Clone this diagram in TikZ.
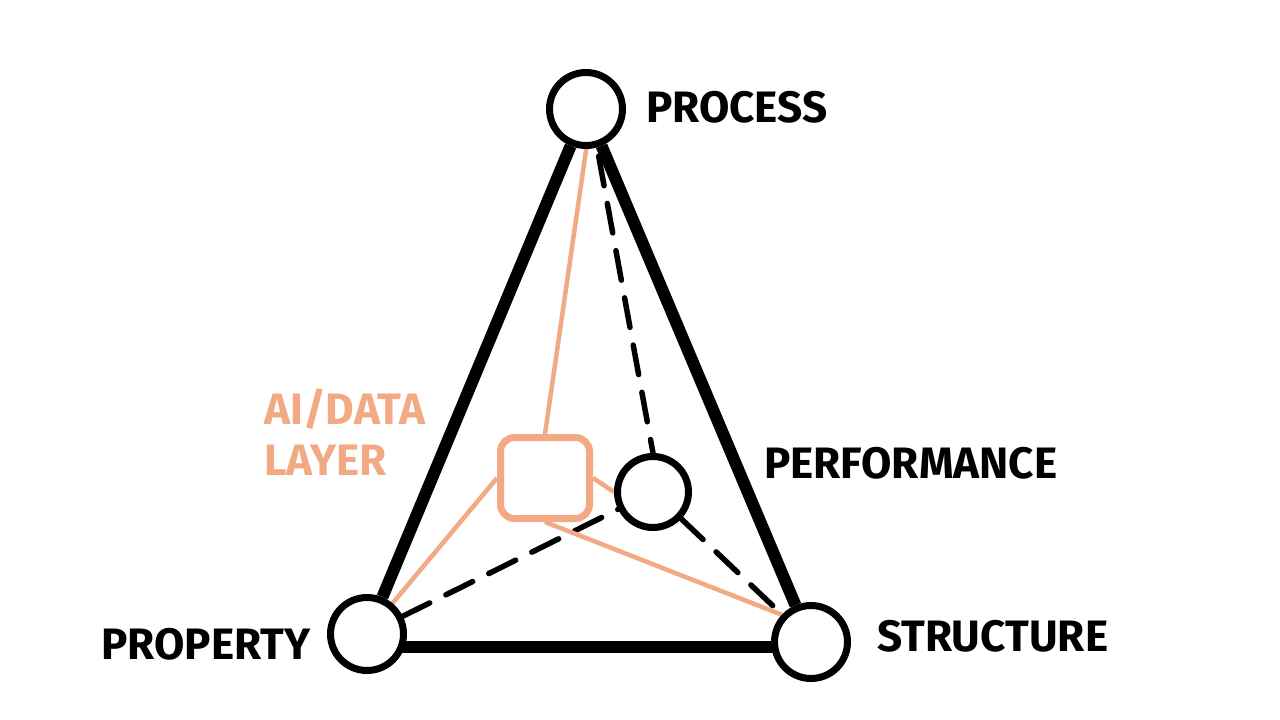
\documentclass[tikz,border=0pt]{standalone}
\usepackage{fontspec}
\setmainfont{Fira Sans}
\usetikzlibrary{calc,backgrounds}
\definecolor{aiorange}{RGB}{242,170,132}
\begin{document}
\begin{tikzpicture}[x=1pt,y=-1pt,
  vertex/.style={circle,draw=black,line width=7pt,fill=white,minimum size=73pt,inner sep=0pt},
  aibox/.style={rectangle,rounded corners=14pt,draw=aiorange,line width=7pt,fill=white,minimum width=89pt,minimum height=81pt,inner sep=0pt},
  edge/.style={line width=12pt,black},
  dashedge/.style={line width=5.5pt,black,dash pattern=on 30pt off 18pt,line cap=round},
  aiedge/.style={line width=4.5pt,aiorange},
  lab/.style={font=\fontsize{44}{51}\selectfont\bfseries,inner sep=0pt,anchor=base west},
]
\useasboundingbox (0,0) rectangle (1280,720);
\node[vertex] (P) at (586,109) {};
\node[vertex] (Prop) at (367,634) {};
\node[vertex] (S) at (811,642) {};
\node[vertex,minimum size=71pt] (Perf) at (653,492) {};
\node[aibox] (box) at (545,478) {};

\node[lab] (lP) at (646,122) {PROCESS};
\node[lab] (lPerf) at (764,478) {PERFORMANCE};
\node[lab] (lS) at (877,651) {STRUCTURE};
\node[lab] (lProp) at (101,659) {PROPERTY};
\node[lab,text=aiorange,align=left] (lAI) at (264,475) {AI/DATA\\LAYER};

\begin{scope}[on background layer]
\fill[white] (0,0) rectangle (1280,720);
\draw[edge] (P) -- (Prop);
\draw[edge] (P) -- (S);
\draw[edge] ($(Prop)+(0,13)$) -- ($(S)+(0,5)$);
\draw[dashedge] ($(P)+(4,0)$) -- (Perf.north);
\draw[dashedge] (Prop) -- (Perf);
\draw[dashedge] (Perf) -- (S);
\draw[aiedge] ($(P)+(6,0)$) -- (box.north);
\draw[aiedge] (box.west) -- (Prop);
\draw[aiedge] (box.south) -- (S.137);
\draw[aiedge] (box.east) -- (Perf.west);
\end{scope}
\end{tikzpicture}
\end{document}
